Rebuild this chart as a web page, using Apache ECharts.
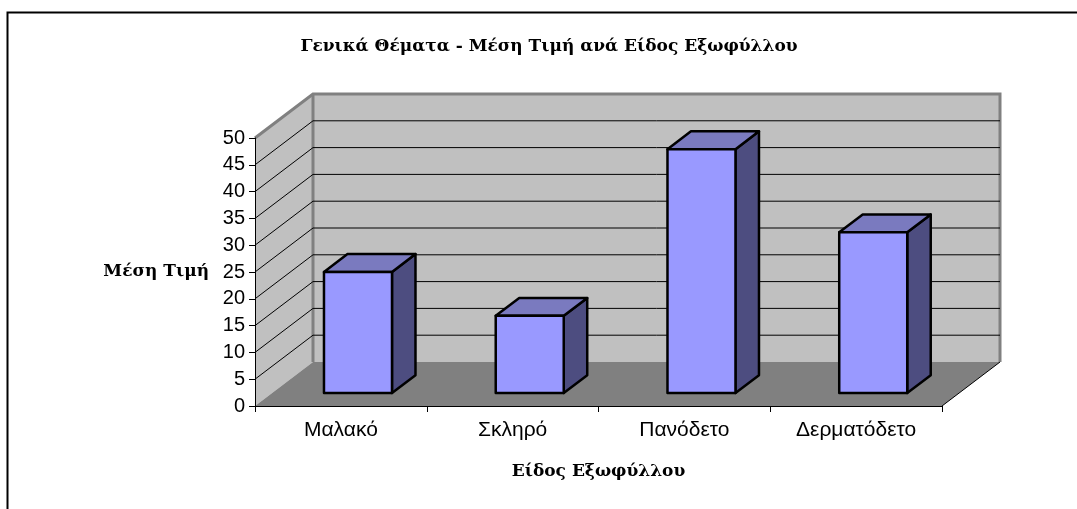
<!DOCTYPE html>
<html>
<head>
<meta charset="utf-8">
<title>Γενικά Θέματα</title>
<script src="https://cdn.jsdelivr.net/npm/echarts@6/dist/echarts.min.js"></script>
<style>
    html, body { margin: 0; padding: 0; background: #fff; }
    #chart { width: 1077px; height: 509px; }
</style>
</head>
<body>
<div id="chart"></div>
<script>
// τιμές διαβασμένες από την εικόνα
const categories = ['Μαλακό', 'Σκληρό', 'Πανόδετο', 'Δερματόδετο'];
const avgPrices = [22.6, 14.4, 45.5, 30];
const gridValues = [5, 10, 15, 20, 25, 30, 35, 40, 45];
const yMax = 50;
const yStep = 5;

// βάθος της ψευδο-3Δ προβολής, σε pixel
const depthX = 58;
const depthY = 44;
const barFront = 0.295;
const barBack = 0.7;
const barRatio = 0.396;

const serif = 'DejaVu Serif';
const sans = 'Liberation Sans';

const shift = (pt, f) => [pt[0] + depthX * f, pt[1] - depthY * f];

// οι άκρες του άξονα κατηγοριών: ο category άξονας δεν δέχεται -0.5
const axisEnds = (api, v) => {
    const band = api.size([1, 0])[0];
    const a = api.coord([0, v]);
    const b = api.coord([categories.length - 1, v]);
    return [[a[0] - band / 2, a[1]], [b[0] + band / 2, b[1]]];
};

const chart = echarts.init(document.getElementById('chart'));

const renderWalls = (params, api) => {
    const [o, r] = axisEnds(api, 0);
    const [t, rt] = axisEnds(api, yMax);
    const wallLine = { stroke: '#808080', lineWidth: 3 };
    return {
        type: 'group',
        children: [
            { type: 'polygon', shape: { points: [shift(o, 1), shift(r, 1), shift(rt, 1), shift(t, 1)] }, style: { fill: '#C0C0C0' } },
            { type: 'polygon', shape: { points: [o, shift(o, 1), shift(t, 1), t] }, style: { fill: '#C0C0C0' } },
            { type: 'polygon', shape: { points: [o, r, shift(r, 1), shift(o, 1)] }, style: { fill: '#808080' } },
            { type: 'polyline', shape: { points: [t, shift(t, 1), shift(rt, 1), shift(r, 1)] }, style: { fill: 'none', ...wallLine } },
            { type: 'line', shape: { x1: shift(o, 1)[0], y1: shift(o, 1)[1], x2: shift(t, 1)[0], y2: shift(t, 1)[1] }, style: wallLine },
            { type: 'line', shape: { x1: r[0], y1: r[1], x2: shift(r, 1)[0], y2: shift(r, 1)[1] }, style: { stroke: '#000', lineWidth: 1 } }
        ]
    };
};

const renderGridLine = (params, api) => {
    const [a, e] = axisEnds(api, api.value(0));
    return {
        type: 'polyline',
        shape: { points: [a, shift(a, 1), shift(e, 1)] },
        style: { fill: 'none', stroke: '#000', lineWidth: 1 }
    };
};

const renderBar = (params, api) => {
    const base = api.coord([api.value(0), 0]);
    const top = api.coord([api.value(0), api.value(1)]);
    const half = api.size([1, 0])[0] * barRatio / 2;
    const edge = { stroke: '#000', lineWidth: 2.5, lineJoin: 'round' };
    const fbl = shift([base[0] - half, base[1]], barFront);
    const fbr = shift([base[0] + half, base[1]], barFront);
    const ftl = shift([base[0] - half, top[1]], barFront);
    const ftr = shift([base[0] + half, top[1]], barFront);
    const d = barBack - barFront;
    return {
        type: 'group',
        children: [
            { type: 'polygon', shape: { points: [fbr, ftr, shift(ftr, d), shift(fbr, d)] }, style: { fill: '#4D4D80', ...edge } },
            { type: 'polygon', shape: { points: [ftl, ftr, shift(ftr, d), shift(ftl, d)] }, style: { fill: '#7A7ABF', ...edge } },
            { type: 'polygon', shape: { points: [fbl, fbr, ftr, ftl] }, style: { fill: '#9999FF', ...edge } }
        ]
    };
};

chart.setOption({
    animation: false,
    backgroundColor: '#fff',
    title: {
        text: 'Γενικά Θέματα - Μέση Τιμή ανά Είδος Εξωφύλλου',
        left: 544,
        top: 33,
        textAlign: 'center',
        textStyle: { fontFamily: serif, fontWeight: 'bold', fontSize: 17, color: '#000' }
    },
    grid: { left: 255, right: 135, top: 138, bottom: 103 },
    xAxis: {
        type: 'category',
        data: categories,
        z: 5,
        name: 'Είδος Εξωφύλλου',
        nameLocation: 'middle',
        nameGap: 57,
        nameTextStyle: { fontFamily: serif, fontWeight: 'bold', fontSize: 17, color: '#000' },
        axisLine: { show: true, lineStyle: { color: '#000', width: 1 } },
        axisTick: { show: true, interval: 0, alignWithLabel: false, length: 6, lineStyle: { color: '#000' } },
        axisLabel: { fontFamily: sans, fontSize: 21, color: '#000', margin: 14 },
        splitLine: { show: false }
    },
    yAxis: {
        type: 'value',
        min: 0,
        max: yMax,
        interval: yStep,
        z: 5,
        name: 'Μέση Τιμή',
        nameLocation: 'middle',
        nameRotate: 0,
        nameGap: 46,
        nameTextStyle: { fontFamily: serif, fontWeight: 'bold', fontSize: 17, color: '#000', align: 'right', verticalAlign: 'middle' },
        axisLine: { show: true, lineStyle: { color: '#000', width: 1 } },
        axisTick: { show: true, length: 6, lineStyle: { color: '#000' } },
        axisLabel: { fontFamily: sans, fontSize: 20, color: '#000', margin: 10 },
        splitLine: { show: false }
    },
    series: [
        { type: 'custom', z: 1, clip: false, silent: true, data: [0], encode: { x: -1, y: -1 }, renderItem: renderWalls },
        { type: 'custom', z: 2, clip: false, silent: true, data: gridValues.map((v) => [v]), encode: { x: -1, y: -1 }, renderItem: renderGridLine },
        { type: 'custom', z: 3, clip: false, data: avgPrices.map((v, i) => [i, v]), encode: { x: 0, y: 1 }, renderItem: renderBar }
    ],
    graphic: [
        // το πλαίσιο του γραφήματος: μόνο πάνω και αριστερά
        { type: 'polyline', z: 10, silent: true, shape: { points: [[1077, 12.5], [7.5, 12.5], [7.5, 509]] }, style: { fill: 'none', stroke: '#000', lineWidth: 2 } }
    ]
});
</script>
</body>
</html>
